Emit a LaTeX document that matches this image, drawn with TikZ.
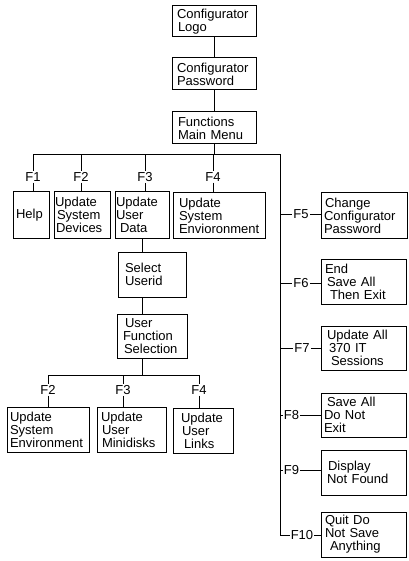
\documentclass[tikz,border=0pt]{standalone}
\usepackage{fontspec}
\setmainfont{Liberation Sans}
\newcommand\ind[1]{\hspace*{#1pt}}
\begin{document}
\begin{tikzpicture}[x=1pt,y=-1pt,
  box/.style={draw, line width=1pt, rectangle, inner xsep=0pt, inner ysep=0pt, align=left, font=\fontsize{13}{13}\selectfont},
  flab/.style={inner sep=1pt, font=\fontsize{13}{13}\selectfont},
  conn/.style={line width=1pt}]
\useasboundingbox (0,0) rectangle (408,561);
% boxes
\node[box, minimum width=84pt, minimum height=31pt, text width=84pt] (logo) at (214,21.5) {\ind{5}Configurator\\\ind{6}Logo};
\node[box, minimum width=84pt, minimum height=32pt, text width=84pt] (pwd) at (214,74) {\ind{5}Configurator\\\ind{5}Password};
\node[box, minimum width=84pt, minimum height=32pt, text width=84pt] (menu) at (214,128) {\ind{6}Functions\\\ind{6}Main Menu};
\node[box, minimum width=36pt, minimum height=46pt, text width=36pt] (help) at (31,215) {\ind{3}Help};
\node[box, minimum width=56pt, minimum height=46pt, text width=56pt] (devices) at (82,215) {\ind{1}Update\\\ind{3}System\\\ind{2}Devices};
\node[box, minimum width=54pt, minimum height=46pt, text width=54pt] (userdata) at (142,215) {\ind{1}Update\\\ind{1}User\\\ind{5}Data};
\node[box, minimum width=92pt, minimum height=45pt, text width=92pt] (sysenv) at (219,215.5) {\ind{6}Update\\\ind{6}System\\\ind{6}Envioronment};
\node[box, minimum width=86pt, minimum height=45pt, text width=86pt] (f5box) at (364,215.5) {\ind{4}Change\\\ind{3}Configurator\\\ind{3}Password};
\node[box, minimum width=68pt, minimum height=45pt, text width=68pt] (select) at (152,274.5) {\ind{7}Select\\\ind{7}Userid};
\node[box, minimum width=70pt, minimum height=44pt, text width=70pt] (ufs) at (152,336) {\ind{8}User\\\ind{6}Function\\\ind{7}Selection};
\node[box, minimum width=82pt, minimum height=45pt, text width=82pt] (env2) at (48,429.5) {\ind{3}Update\\\ind{3}System\\\ind{3}Environment};
\node[box, minimum width=69pt, minimum height=45pt, text width=69pt] (minidisks) at (131.5,429.5) {\ind{4}Update\\\ind{5}User\\\ind{5}Minidisks};
\node[box, minimum width=60pt, minimum height=45pt, text width=60pt] (links) at (203,430.5) {\ind{8}Update\\\ind{9}User\\\ind{11}Links};
\node[box, minimum width=85pt, minimum height=45pt, text width=85pt] (f6box) at (363.5,281.5) {\ind{4}End\\\ind{6}Save All\\\ind{9}Then Exit};
\node[box, minimum width=85pt, minimum height=44pt, text width=85pt] (f7box) at (363.5,348) {\ind{6}Update All\\\ind{8}370 IT\\\ind{10}Sessions};
\node[box, minimum width=85pt, minimum height=44pt, text width=85pt] (f8box) at (363.5,415) {\ind{6}Save All\\\ind{3}Do Not\\\ind{3}Exit};
\node[box, minimum width=85pt, minimum height=45pt, text width=85pt] (f9box) at (363.5,472.5) {\ind{7}Display\\\ind{6}Not Found};
\node[box, minimum width=85pt, minimum height=45pt, text width=85pt] (f10box) at (363.5,534.5) {\ind{4}Quit Do\\\ind{4}Not Save\\\ind{9}Anything};
% labels
\node[flab] (lF1) at (33,177) {F1};
\node[flab] (lF2) at (81,177) {F2};
\node[flab] (lF3) at (145,177) {F3};
\node[flab] (lF4) at (213,177) {F4};
\node[flab] (mF2) at (48,390) {F2};
\node[flab] (mF3) at (123,390) {F3};
\node[flab] (mF4) at (199,390) {F4};
\node[flab] (lF5) at (301,214.5) {F5};
\node[flab] (lF6) at (301,283) {F6};
\node[flab] (lF7) at (302,348) {F7};
\node[flab] (lF8) at (291.5,415) {F8};
\node[flab] (lF9) at (291.5,470) {F9};
\node[flab] (lF10) at (302,535.5) {F10};
% coordinates
\coordinate (busL) at (33,155);
\coordinate (busR) at (280,155);
\coordinate (spine) at (280,535.5);
\coordinate (bus2L) at (48,375);
\coordinate (bus2R) at (199,375);
% connectors
\draw[conn] (logo) -- (pwd);
\draw[conn] (pwd) -- (menu);
\draw[conn] (menu.south) -- (menu.south |- busR);
\draw[conn] (busL) -- (busR) -- (spine) -- (lF10.west);
\foreach \l/\b in {lF1/help, lF2/devices, lF3/userdata, lF4/sysenv, mF2/env2, mF3/minidisks, mF4/links}{
  \draw[conn] (\l.south) -- (\l.south |- \b.north);
}
\foreach \l in {lF1, lF2, lF3, lF4}{
  \draw[conn] (\l.north |- busR) -- (\l.north);
}
\foreach \l in {mF2, mF3, mF4}{
  \draw[conn] (\l.north |- bus2L) -- (\l.north);
}
\draw[conn] (userdata.south) -- (userdata.south |- select.north);
\draw[conn] (select.south -| userdata.south) -- (ufs.north -| userdata.south);
\draw[conn] (ufs.south -| userdata.south) -- (bus2L -| userdata.south);
\draw[conn] (bus2L) -- (bus2R);
\foreach \l/\b in {lF5/f5box, lF6/f6box, lF7/f7box, lF8/f8box, lF9/f9box}{
  \draw[conn] (\l.west -| busR) -- (\l.west);
  \draw[conn] (\l.east) -- (\l.east -| \b.west);
}
\draw[conn] (lF10.east) -- (lF10.east -| f10box.west);
\end{tikzpicture}
\end{document}
